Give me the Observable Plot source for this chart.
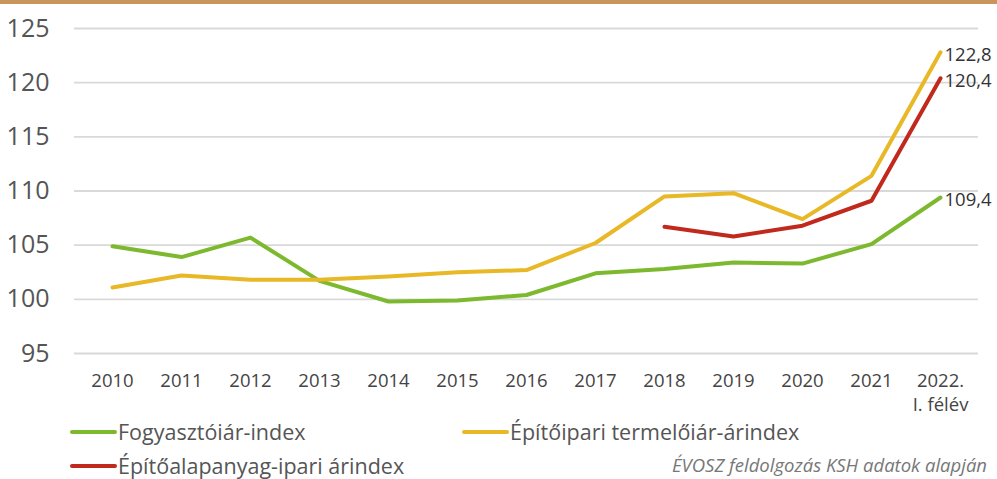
<!DOCTYPE html>
<html>
<head>
<meta charset="utf-8">
<script src="https://cdn.jsdelivr.net/npm/d3@7"></script>
<script src="https://cdn.jsdelivr.net/npm/@observablehq/plot@0.6"></script>
<style>
  html, body { margin: 0; padding: 0; background: #fff; }
  body { position: relative; width: 997px; height: 479px; overflow: hidden; font-family: "Open Sans", sans-serif; }
  #topbar { position: absolute; left: 0; top: 0; width: 997px; height: 4px; background: #c8955a; }
  #chart { position: absolute; left: 0; top: 0; }
  .leg { position: absolute; display: flex; align-items: center; font-size: 21.5px; line-height: 26px; color: #555; white-space: nowrap; }
  .leg .sw { display: inline-block; width: 47px; height: 4px; border-radius: 2px; margin-right: 1px; }
  #caption { position: absolute; left: 672px; top: 453px; font-size: 18.5px; line-height: 24px; font-style: italic; color: #777; white-space: nowrap; }
</style>
</head>
<body>
<div id="chart"></div>
<div id="topbar"></div>
<div id="legend"></div>
<div id="caption">ÉVOSZ feldolgozás KSH adatok alapján</div>
<script>
const years = ["2010","2011","2012","2013","2014","2015","2016","2017","2018","2019","2020","2021","2022"];
const xLabels = ["2010","2011","2012","2013","2014","2015","2016","2017","2018","2019","2020","2021","2022.\nI. félév"];
const yTicks = [95, 100, 105, 110, 115, 120, 125];
const seriesNames = ["Fogyasztóiár-index", "Építőipari termelőiár-árindex", "Építőalapanyag-ipari árindex"];
const seriesColors = ["#7db92e", "#e8b826", "#c0291c"];
const fogyasztoi = [104.9, 103.9, 105.7, 101.7, 99.8, 99.9, 100.4, 102.4, 102.8, 103.4, 103.3, 105.1, 109.4];
const epitoipari = [101.1, 102.2, 101.8, 101.8, 102.1, 102.5, 102.7, 105.2, 109.5, 109.8, 107.4, 111.4, 122.8];
const alapanyag = [null, null, null, null, null, null, null, null, 106.7, 105.8, 106.8, 109.1, 120.4];

const allSeries = [fogyasztoi, epitoipari, alapanyag];
const rows = [];
allSeries.forEach((vals, si) => {
  vals.forEach((v, i) => {
    if (v != null) rows.push({series: seriesNames[si], year: years[i], value: v});
  });
});
const endRows = allSeries.map((vals, si) => ({series: seriesNames[si], year: years[years.length - 1], value: vals[vals.length - 1]}));

const plot = Plot.plot({
  width: 997,
  height: 412,
  marginLeft: 74,
  marginRight: 19,
  marginTop: 28,
  marginBottom: 59,
  style: {fontFamily: "Open Sans, sans-serif", background: "transparent", overflow: "visible"},
  x: {type: "point", domain: years, padding: 0, insetLeft: 34, insetRight: 35},
  y: {domain: [95, 125]},
  color: {domain: seriesNames, range: seriesColors},
  marks: [
    Plot.ruleY(yTicks, {stroke: "#d9d9d9", strokeWidth: 1.8}),
    Plot.axisY(yTicks, {tickSize: 0, tickPadding: 25, fontSize: 25, fill: "#555", label: null}),
    Plot.axisX({tickSize: 0, tickPadding: 16, fontSize: 18.5, fill: "#444", label: null, lineHeight: 1.3,
      tickFormat: d => xLabels[years.indexOf(d)]}),
    Plot.line(rows, {x: "year", y: "value", z: "series", stroke: "series", strokeWidth: 4, strokeLinejoin: "round", strokeLinecap: "round"}),
    Plot.text(endRows, {x: "year", y: "value", text: d => d.value.toFixed(1).replace(".", ","), textAnchor: "start", dx: 4, dy: 3, fontSize: 18.5, fill: "#333"})
  ]
});
document.getElementById("chart").appendChild(plot);

// legend
const legendPos = [[70, 419], [462, 419], [70, 453]];
const legend = document.getElementById("legend");
seriesNames.forEach((name, i) => {
  const d = document.createElement("div");
  d.className = "leg";
  d.style.left = legendPos[i][0] + "px";
  d.style.top = legendPos[i][1] + "px";
  d.innerHTML = `<span class="sw" style="background:${seriesColors[i]}"></span><span>${name}</span>`;
  legend.appendChild(d);
});
</script>
</body>
</html>
